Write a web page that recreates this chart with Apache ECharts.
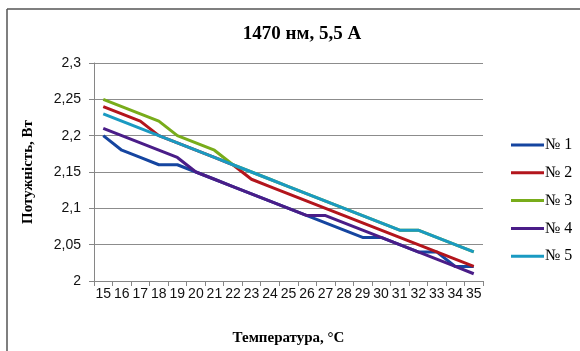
<!DOCTYPE html>
<html>
<head>
<meta charset="utf-8">
<script src="https://cdn.jsdelivr.net/npm/echarts@6/dist/echarts.min.js"></script>
<style>
  html, body { margin: 0; padding: 0; background: #fff; }
  #chart { width: 580px; height: 351px; }
</style>
</head>
<body>
<div id="chart"></div>
<script>
// температура, °C
const temps = ['15','16','17','18','19','20','21','22','23','24','25','26','27','28','29','30','31','32','33','34','35'];

const s1 = [2.20,2.18,2.17,2.16,2.16,2.15,2.14,2.13,2.12,2.11,2.10,2.09,2.08,2.07,2.06,2.06,2.05,2.04,2.04,2.02,2.02];
const s2 = [2.24,2.23,2.22,2.20,2.19,2.18,2.17,2.16,2.14,2.13,2.12,2.11,2.10,2.09,2.08,2.07,2.06,2.05,2.04,2.03,2.02];
const s3 = [2.25,2.24,2.23,2.22,2.20,2.19,2.18,2.16,2.15,2.14,2.13,2.12,2.11,2.10,2.09,2.08,2.07,2.07,2.06,2.05,2.04];
const s4 = [2.21,2.20,2.19,2.18,2.17,2.15,2.14,2.13,2.12,2.11,2.10,2.09,2.09,2.08,2.07,2.06,2.05,2.04,2.03,2.02,2.01];
const s5 = [2.23,2.22,2.21,2.20,2.19,2.18,2.17,2.16,2.15,2.14,2.13,2.12,2.11,2.10,2.09,2.08,2.07,2.07,2.06,2.05,2.04];

const names = ['№ 1', '№ 2', '№ 3', '№ 4', '№ 5'];
const colors = ['#1545A0', '#B3151C', '#78AC1A', '#4A1D88', '#1A9AC2'];
const yTicks = ['2', '2,05', '2,1', '2,15', '2,2', '2,25', '2,3'];

const serif = '"Liberation Serif", "DejaVu Serif", serif';
const sans = '"Liberation Sans", Arial, sans-serif';

let mychart = echarts.init(document.getElementById('chart'));

const mkSeries = (name, data, color) => ({
    name: name,
    type: 'line',
    data: data,
    showSymbol: false,
    symbol: 'none',
    lineStyle: { width: 3, color: color },
    itemStyle: { color: color },
    animation: false
});

let option = {
    animation: false,
    title: {
        text: '1470 нм, 5,5 А',
        left: 297,
        textAlign: 'center',
        top: 20,
        textStyle: { fontFamily: serif, fontSize: 19, fontWeight: 'bold', color: '#000' }
    },
    legend: {
        orient: 'vertical',
        left: 506,
        top: 132,
        icon: 'rect',
        itemWidth: 33,
        itemHeight: 3,
        itemGap: 11.8,
        textStyle: { fontFamily: serif, fontSize: 16, color: '#000', lineHeight: 16, padding: [0, 0, 0, -4] },
        data: names
    },
    grid: { left: 94, right: 97, top: 63, bottom: 70, containLabel: false },
    xAxis: {
        type: 'category',
        data: temps,
        boundaryGap: true,
        name: 'Температура, °С',
        nameLocation: 'middle',
        nameGap: 50,
        nameTextStyle: { fontFamily: serif, fontSize: 15, fontWeight: 'bold', color: '#000' },
        axisLine: { lineStyle: { color: '#868686', width: 1 } },
        axisTick: { show: true, inside: false, length: 5, lineStyle: { color: '#868686' } },
        axisLabel: { interval: 0, margin: 6, fontFamily: sans, fontSize: 14, color: '#111' },
        splitLine: { show: false }
    },
    yAxis: {
        type: 'value',
        min: 2,
        max: 2.3,
        interval: 0.05,
        name: 'Потужність, Вт',
        nameLocation: 'middle',
        nameGap: 58,
        nameRotate: 90,
        nameTextStyle: { fontFamily: serif, fontSize: 15, fontWeight: 'bold', color: '#000' },
        axisLine: { show: true, lineStyle: { color: '#868686', width: 1 } },
        axisTick: { show: true, inside: false, length: 5, lineStyle: { color: '#868686' } },
        axisLabel: {
            margin: 13,
            fontFamily: sans,
            fontSize: 14,
            color: '#111',
            formatter: (v) => yTicks[Math.round((v - 2) / 0.05)]
        },
        splitLine: { show: true, lineStyle: { color: '#8c8c8c', width: 1 } }
    },
    graphic: [
        { type: 'line', shape: { x1: 7, y1: 9, x2: 580, y2: 9 }, style: { stroke: '#555', lineWidth: 1.5 } },
        { type: 'line', shape: { x1: 7, y1: 9, x2: 7, y2: 351 }, style: { stroke: '#555', lineWidth: 1.5 } }
    ],
    series: [
        mkSeries(names[0], s1, colors[0]),
        mkSeries(names[1], s2, colors[1]),
        mkSeries(names[2], s3, colors[2]),
        mkSeries(names[3], s4, colors[3]),
        mkSeries(names[4], s5, colors[4])
    ]
};

mychart.setOption(option);
</script>
</body>
</html>
